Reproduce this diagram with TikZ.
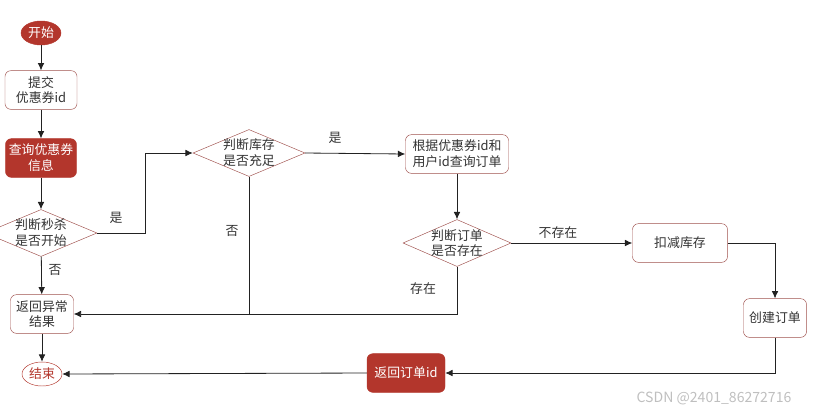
\documentclass[tikz,border=0pt]{standalone}
\usepackage{fontspec}
\setmainfont{Noto Sans CJK SC}
\usetikzlibrary{arrows.meta,positioning,shapes.geometric}
\definecolor{fred}{HTML}{B3362C}
\definecolor{fborder}{HTML}{A0524E}
\definecolor{ftext}{HTML}{333333}
\definecolor{fline}{HTML}{222222}
\tikzset{
  block/.style    = {draw=fborder, fill=white, rounded corners=5pt, align=center,
                     minimum height=1.16cm, text=ftext, inner sep=1pt},
  redblock/.style = {block, draw=fred, fill=fred, text=white},
  term/.style     = {draw=fred, ellipse, minimum width=1.2cm, minimum height=0.72cm,
                     inner sep=0pt},
  decide/.style   = {draw=fborder, fill=white, diamond, aspect=2.4, align=center,
                     text=ftext, inner xsep=-2pt, inner ysep=-2pt,
                     minimum width=3.36cm, minimum height=1.41cm},
  lbl/.style      = {text=ftext},
  sig/.style      = {-{Latex[length=2.2mm,width=2mm]}, draw=fline, line width=0.7pt},
  wire/.style     = {draw=fline, line width=0.7pt},
}

\begin{document}
\begin{tikzpicture}[x=0.03cm,y=-0.03cm,font=\fontsize{11}{13.5}\selectfont]
\useasboundingbox (0,0) rectangle (824,414);
% left column
\node[term,fill=fred,text=white] (start) at (41,33) {开始};
\node[block,minimum width=2.16cm] (submit) at (41,90) {提交\\优惠券id};
\node[redblock,minimum width=2.13cm] (query) at (41,158) {查询优惠券\\信息};
\node[decide] (D1) at (41,233) {判断秒杀\\是否开始};
\node[block,minimum width=1.89cm] (err) at (42,314) {返回异常\\结果};
\node[term,fill=white,text=fred] (stop) at (42,374) {结束};
% upper row
\node[decide] (D2) at (249,153) {判断库存\\是否充足};
\node[block,minimum width=3.09cm] (find) at (457,154) {根据优惠券id和\\用户id查询订单};
\node[decide,minimum width=3.24cm] (D3) at (457,243) {判断订单\\是否存在};
\node[block,minimum width=2.85cm] (deduct) at (680,243) {扣减库存};
\node[block,minimum width=1.89cm] (create) at (775,318) {创建订单};
\node[redblock,minimum width=2.34cm] (retid) at (406,373) {返回订单id};
% main flow
\draw[sig] (start) -- (submit);
\draw[sig] (submit) -- (query);
\draw[sig] (query) -- (D1);
\draw[sig] (D1) -- (err);
\draw[sig] (err) -- (stop);
\draw[sig] (D1.east) -- (145,233) |- (D2.west);
\draw[sig] (D2.east) -- (find.west);
\draw[sig] (find) -- (D3);
\draw[sig] (D3.east) -- (deduct.west);
\draw[sig] (deduct.east) -| (create.north);
\draw[sig] (create.south) |- (retid.east);
\draw[sig] (retid.west) -- (stop.east);
% failure branches back to err
\coordinate (J) at (D2.south |- err.east);
\draw[sig] (D2.south) -- (J) -- (err.east);
\draw[wire] (D3.south) |- (J);
% labels
\node[lbl] (yes1) at (116,218) {是};
\node[lbl] (no1)  at (55,270)  {否};
\node[lbl] (yes2) at (335,138) {是};
\node[lbl] (no2)  at (232,231) {否};
\node[lbl] (has)  at (423,289) {存在};
\node[lbl] (none) at (558,233) {不存在};
\node[text=black!25,font=\fontsize{12}{14}\selectfont] (mark) at (714,398) {CSDN @2401\_86272716};
\end{tikzpicture}
\end{document}
